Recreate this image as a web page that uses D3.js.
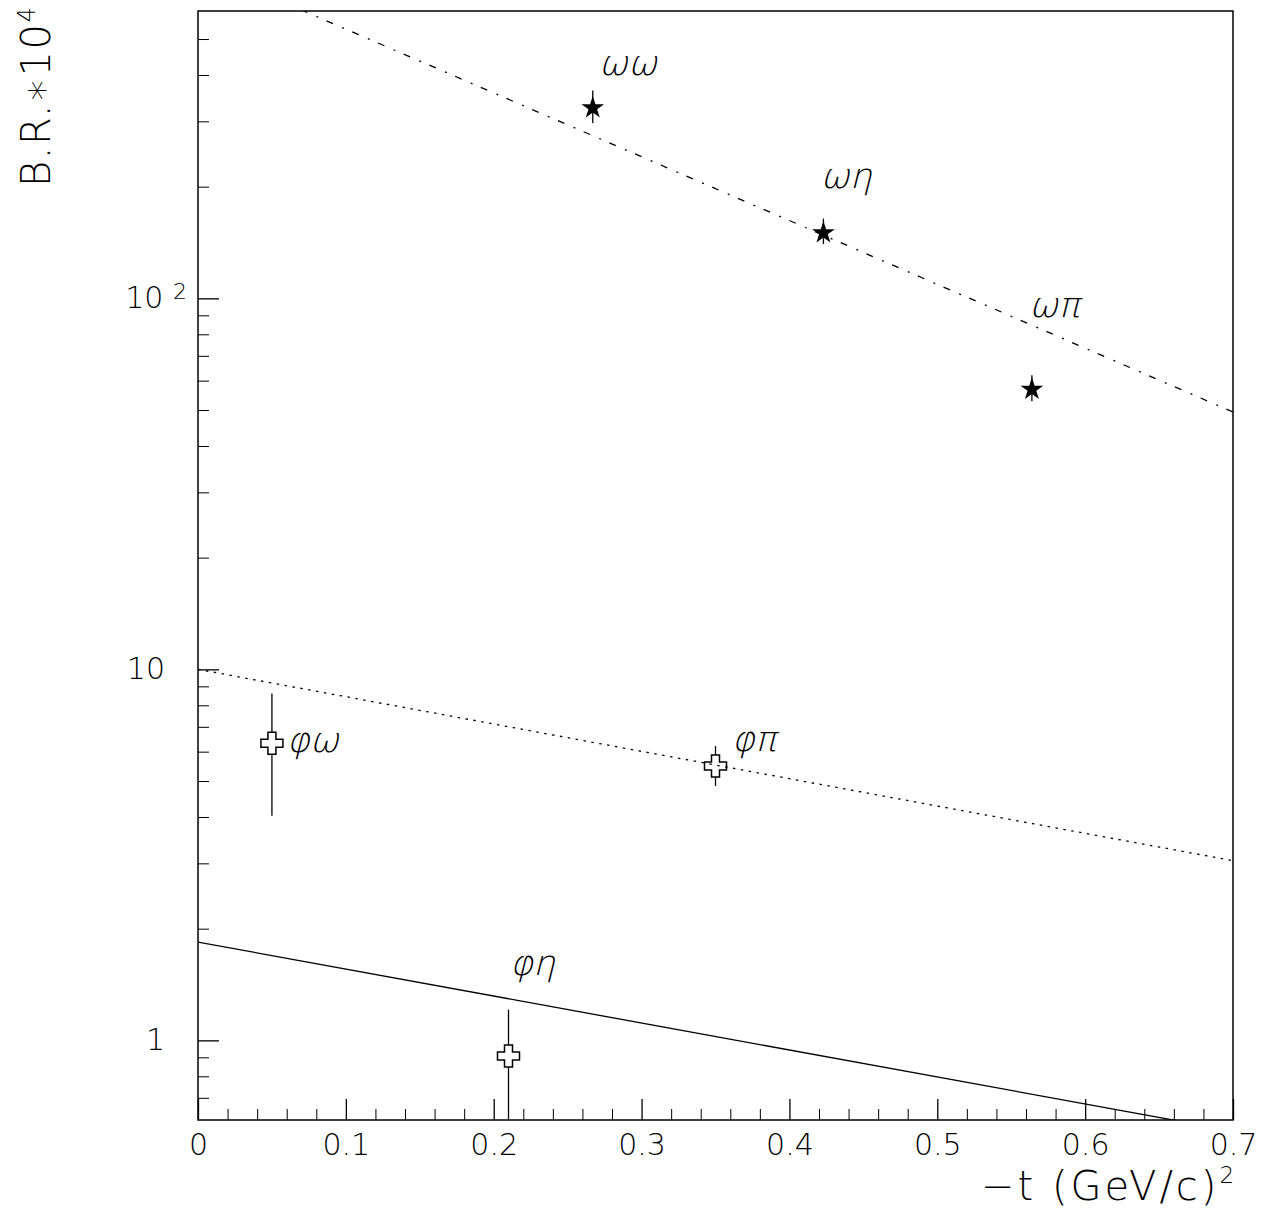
<!DOCTYPE html>
<html>
<head>
<meta charset="utf-8">
<script src="https://cdn.jsdelivr.net/npm/d3@7"></script>
<style>
  body { margin: 0; background: #fff; }
  text { font-family: "DejaVu Sans", sans-serif; font-weight: 200; fill: #000; }
  .greek { font-size: 35px; }
</style>
</head>
<body>
<div id="chart"></div>
<script>
// omega-channel points (stars)
const omegaLabels = ["ωω", "ωη", "ωπ"];
const omegaT = [0.267, 0.423, 0.564];
const omegaBR = [328, 151, 57.2];
const omegaLo = [297, 140, 52.8];
const omegaHi = [363, 164, 62.0];

// phi-channel points (open crosses)
const phiLabels = ["φω", "φη", "φπ"];
const phiT = [0.05, 0.21, 0.35];
const phiBR = [6.32, 0.907, 5.49];
const phiLo = [4.03, 0.4, 4.85];
const phiHi = [8.61, 1.21, 6.21];

// label anchors (t, B.R.) for the channel names
const omegaLabelT = [0.271, 0.421, 0.562];
const omegaLabelBR = [400, 198, 89];
const phiLabelT = [0.060, 0.211, 0.361];
const phiLabelBR = [6.0, 1.5, 6.03];

// fitted exponential curves, end values at t = 0 and t = 0.7
const fitT = [0, 0.7];
const fitOmega = [790, 49.4];
const fitPhiDot = [10, 3.05];
const fitPhiSolid = [1.84, 0.57];

const W = 1263, H = 1218;
const margin = { left: 198, right: 30, top: 11, bottom: 98 };
const iw = W - margin.left - margin.right;
const ih = H - margin.top - margin.bottom;

const svg = d3.select("#chart").append("svg")
  .attr("width", W).attr("height", H);

const g = svg.append("g")
  .attr("transform", `translate(${margin.left},${margin.top})`);

const x = d3.scaleLinear().domain([0, 0.7]).range([0, iw]);
const y = d3.scaleLog().domain([0.61, 595]).range([ih, 0]);

svg.append("defs").append("clipPath").attr("id", "clip")
  .append("rect").attr("width", iw).attr("height", ih);

const plot = g.append("g").attr("clip-path", "url(#clip)");

// fit lines
const line = d3.line().x((d) => x(d[0])).y((d) => y(d[1]));
const fits = [
  { v: fitOmega, dash: "7,10,2,9" },
  { v: fitPhiDot, dash: "2.5,5.5" },
  { v: fitPhiSolid, dash: null },
];
fits.forEach((f) => {
  plot.append("path")
    .datum(fitT.map((t, i) => [t, f.v[i]]))
    .attr("d", line)
    .attr("fill", "none")
    .attr("stroke", "#000")
    .attr("stroke-width", 1.3)
    .attr("stroke-dasharray", f.dash);
});

// omega stars with error bars
const omega = omegaT.map((t, i) => ({ t, v: omegaBR[i], lo: omegaLo[i], hi: omegaHi[i] }));
plot.selectAll(".ebar-o").data(omega).enter().append("line")
  .attr("x1", (d) => x(d.t)).attr("x2", (d) => x(d.t))
  .attr("y1", (d) => y(d.hi)).attr("y2", (d) => y(d.lo))
  .attr("stroke", "#000").attr("stroke-width", 1.3);

plot.selectAll(".star").data(omega).enter().append("path")
  .attr("transform", (d) => `translate(${x(d.t)},${y(d.v) + 1})`)
  .attr("d", d3.symbol().type(d3.symbolStar).size(160))
  .attr("fill", "#000");

// phi crosses with error bars (gap at the marker)
const phi = phiT.map((t, i) => ({ t, v: phiBR[i], lo: phiLo[i], hi: phiHi[i] }));
const hs = 11, ha = 4;
phi.forEach((d) => {
  const cx = x(d.t), cy = y(d.v);
  plot.append("line")
    .attr("x1", cx).attr("x2", cx)
    .attr("y1", y(d.hi)).attr("y2", cy - hs)
    .attr("stroke", "#000").attr("stroke-width", 1.3);
  plot.append("line")
    .attr("x1", cx).attr("x2", cx)
    .attr("y1", cy + hs).attr("y2", y(d.lo))
    .attr("stroke", "#000").attr("stroke-width", 1.3);
});

const crossPath = [
  [-ha, -hs], [ha, -hs], [ha, -ha], [hs, -ha], [hs, ha], [ha, ha],
  [ha, hs], [-ha, hs], [-ha, ha], [-hs, ha], [-hs, -ha], [-ha, -ha],
];
plot.selectAll(".cross").data(phi).enter().append("path")
  .attr("transform", (d) => `translate(${x(d.t)},${y(d.v)})`)
  .attr("d", "M" + crossPath.join("L") + "Z")
  .attr("fill", "none")
  .attr("stroke", "#000")
  .attr("stroke-width", 1.5);

// channel labels (thin, slanted)
const labelT = omegaLabelT.concat(phiLabelT);
const labelBR = omegaLabelBR.concat(phiLabelBR);
omegaLabels.concat(phiLabels).forEach((s, i) => {
  g.append("text").attr("class", "greek")
    .attr("transform", `translate(${x(labelT[i])},${y(labelBR[i])}) skewX(-14)`)
    .text(s);
});

// frame
g.append("rect")
  .attr("width", iw).attr("height", ih)
  .attr("fill", "none").attr("stroke", "#000").attr("stroke-width", 1.5);

// x axis
const xMajor = d3.range(0, 8).map((i) => i / 10);
const xMinor = x.ticks(35).filter((t) => Math.abs(t * 10 - Math.round(t * 10)) > 1e-6);

g.append("g")
  .attr("transform", `translate(0,${ih})`)
  .call(d3.axisBottom(x).tickValues(xMinor).tickSize(-11).tickSizeOuter(0).tickFormat(""))
  .call((a) => a.select(".domain").remove());

const xAxis = g.append("g")
  .attr("transform", `translate(0,${ih})`)
  .call(d3.axisBottom(x).tickValues(xMajor).tickSize(-21).tickSizeOuter(0)
    .tickPadding(14)
    .tickFormat((d) => (d === 0 ? "0" : d3.format(".1f")(d))));
xAxis.select(".domain").remove();
xAxis.selectAll("line").attr("stroke-width", 1.3);
xAxis.selectAll("text").style("font-size", "30px").style("font-family", "DejaVu Sans").style("font-weight", 200);

// y axis
const yMajor = [1, 10, 100];
const yMinor = y.ticks().filter((t) => !yMajor.includes(t));

g.append("g")
  .call(d3.axisLeft(y).tickValues(yMinor).tickSize(-11).tickSizeOuter(0).tickFormat(""))
  .call((a) => a.select(".domain").remove());

const yAxis = g.append("g")
  .call(d3.axisLeft(y).tickValues(yMajor).tickSize(-21).tickSizeOuter(0)
    .tickPadding(33).tickFormat((d) => (d === 100 ? "" : String(d))));
yAxis.select(".domain").remove();
yAxis.selectAll("line").attr("stroke-width", 1.3);
yAxis.selectAll("text").style("font-size", "30px").style("font-family", "DejaVu Sans").style("font-weight", 200);
yAxis.selectAll(".tick").filter((d) => d === 100).select("text")
  .attr("x", -11)
  .call((t) => {
    t.append("tspan").text("10 ");
    t.append("tspan").attr("dy", "-0.45em").style("font-size", "22px").text("2");
  });

// axis titles
const xt = svg.append("text")
  .attr("x", 981).attr("y", 1200)
  .style("font-size", "40px")
  .style("letter-spacing", "3px");
xt.append("tspan").text("−t (GeV/c)");
xt.append("tspan").attr("dy", -17).style("font-size", "23px").text("2");

const yt = svg.append("text")
  .attr("transform", "translate(50,187) rotate(-90)")
  .style("font-size", "40px")
  .style("letter-spacing", "1.5px");
yt.append("tspan").text("B.R.∗10");
yt.append("tspan").attr("dy", -15).style("font-size", "24px").text("4");
</script>
</body>
</html>
